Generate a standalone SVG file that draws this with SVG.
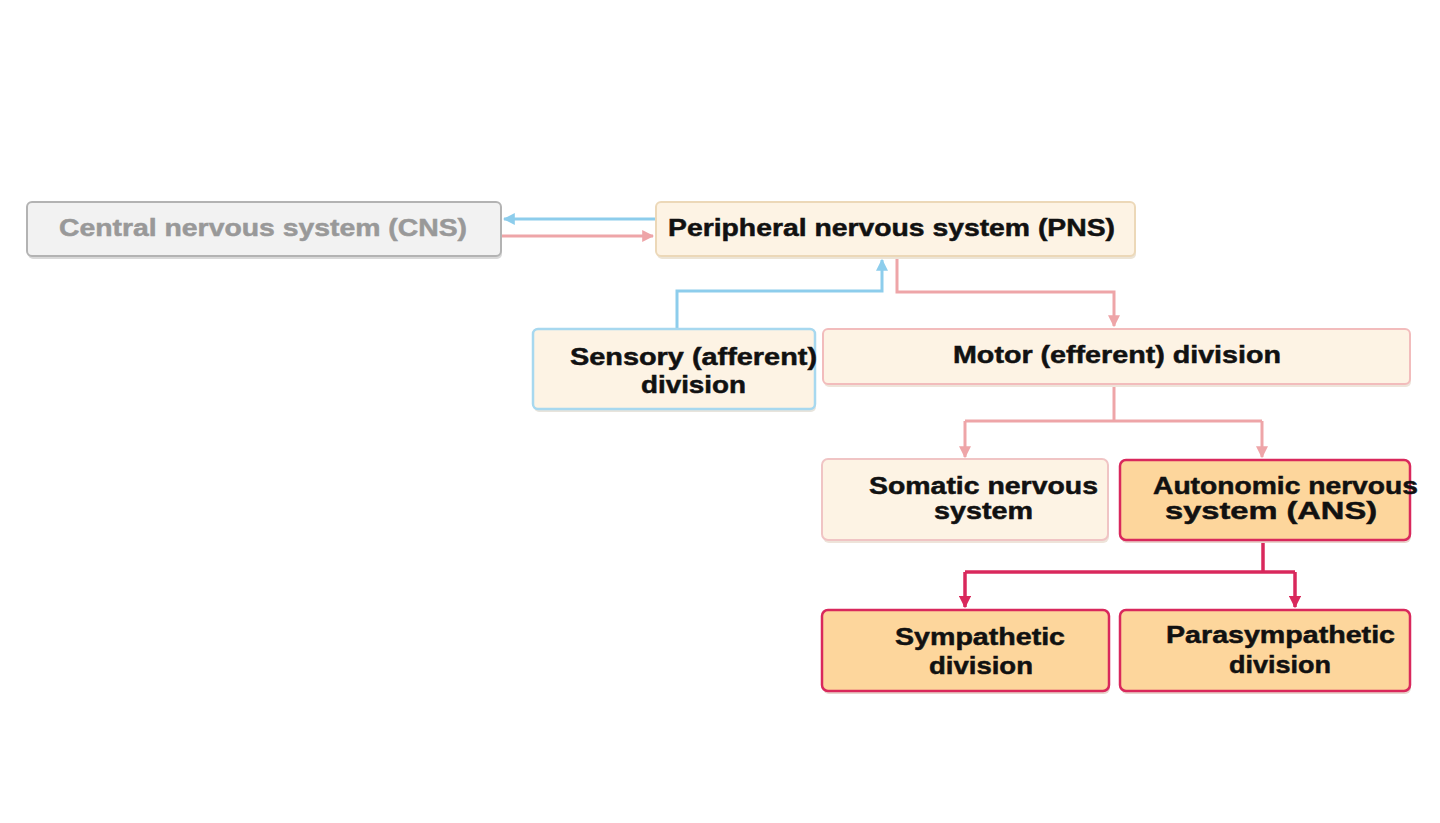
<svg xmlns="http://www.w3.org/2000/svg" width="1440" height="823" viewBox="0 0 1440 823">
<style>
.t{font-family:"Liberation Sans",Arial,sans-serif;font-weight:bold;font-size:24px;fill:#111111;stroke:#111111;stroke-width:0.5}
.g{fill:#999999;stroke:#999999}
.sh{fill:#d9d9d9}
.cream{fill:#fdf3e4}
.orange{fill:#fdd69c}
.blue{stroke:#8dcdec;stroke-width:3;fill:none}
.pink{stroke:#eea5a8;stroke-width:3;fill:none}
.red{stroke:#d9285c;stroke-width:3.5;fill:none}
</style>
<defs>
<marker id="aBlue" viewBox="0 0 10 10" refX="9" refY="5" markerWidth="4" markerHeight="4" orient="auto"><path d="M0,0L10,5L0,10z" fill="#8dcdec"/></marker>
<marker id="aPink" viewBox="0 0 10 10" refX="9" refY="5" markerWidth="4" markerHeight="4" orient="auto"><path d="M0,0L10,5L0,10z" fill="#eea5a8"/></marker>
<marker id="aRed" viewBox="0 0 10 10" refX="9" refY="5" markerWidth="3.5" markerHeight="3.5" orient="auto"><path d="M0,0L10,5L0,10z" fill="#d9285c"/></marker>
</defs>
<rect width="1440" height="823" fill="#ffffff"/>
<g id="connectors">
<path class="blue" d="M656,219H504" marker-end="url(#aBlue)"/>
<path class="pink" d="M502,236H653" marker-end="url(#aPink)"/>
<path class="blue" d="M677,329V291H882V260" marker-end="url(#aBlue)"/>
<path class="pink" d="M897,257V292H1114V326" marker-end="url(#aPink)"/>
<path class="pink" d="M1114,385V421"/>
<path class="pink" d="M965,421H1262"/>
<path class="pink" d="M965,421V457" marker-end="url(#aPink)"/>
<path class="pink" d="M1262,421V457" marker-end="url(#aPink)"/>
<path class="red" d="M1263,541V572"/>
<path class="red" d="M965,572H1295"/>
<path class="red" d="M965,572V607" marker-end="url(#aRed)"/>
<path class="red" d="M1295,572V607" marker-end="url(#aRed)"/>
</g>
<g id="cns">
<rect class="sh" x="28" y="205" width="474" height="54" rx="5"/>
<rect x="27" y="202" width="474" height="54" rx="5" fill="#f2f2f2" stroke="#b3b3b3" stroke-width="2"/>
<text class="t g" x="59" y="236" textLength="408" lengthAdjust="spacingAndGlyphs">Central nervous system (CNS)</text>
</g>
<g id="pns">
<rect x="657" y="205" width="479" height="54" rx="5" fill="#ece4d6"/>
<rect class="cream" x="656" y="202" width="479" height="54" rx="5" stroke="#ecd8b8" stroke-width="2"/>
<text class="t" x="668" y="236" textLength="447" lengthAdjust="spacingAndGlyphs">Peripheral nervous system (PNS)</text>
</g>
<g id="sensory">
<rect x="534" y="332" width="282" height="80" rx="5" fill="#e8e4dc"/>
<rect class="cream" x="533" y="329" width="282" height="80" rx="5" stroke="#a7d8ef" stroke-width="2.5"/>
<text class="t" x="570" y="365" textLength="247" lengthAdjust="spacingAndGlyphs">Sensory (afferent)</text>
<text class="t" x="641" y="393" textLength="105" lengthAdjust="spacingAndGlyphs">division</text>
</g>
<g id="motor">
<rect x="824" y="332" width="587" height="55" rx="5" fill="#eee4da"/>
<rect class="cream" x="823" y="329" width="587" height="55" rx="5" stroke="#f2bcbc" stroke-width="2"/>
<text class="t" x="953" y="363" textLength="328" lengthAdjust="spacingAndGlyphs">Motor (efferent) division</text>
</g>
<g id="somatic">
<rect x="823" y="462" width="286" height="81" rx="6" fill="#eee4da"/>
<rect class="cream" x="822" y="459" width="286" height="81" rx="6" stroke="#f0c4c4" stroke-width="2"/>
<text class="t" x="869" y="494" textLength="229" lengthAdjust="spacingAndGlyphs">Somatic nervous</text>
<text class="t" x="934" y="519" textLength="99" lengthAdjust="spacingAndGlyphs">system</text>
</g>
<g id="ans">
<rect x="1121" y="463" width="290" height="80" rx="6" fill="#e8d4cc"/>
<rect class="orange" x="1120" y="460" width="290" height="80" rx="6" stroke="#d9285c" stroke-width="2.5"/>
<text class="t" x="1153" y="494" textLength="265" lengthAdjust="spacingAndGlyphs">Autonomic nervous</text>
<text class="t" x="1165" y="519" textLength="212" lengthAdjust="spacingAndGlyphs">system (ANS)</text>
</g>
<g id="sympathetic">
<rect x="823" y="613" width="287" height="81" rx="6" fill="#e8d4cc"/>
<rect class="orange" x="822" y="610" width="287" height="81" rx="6" stroke="#d9285c" stroke-width="2.5"/>
<text class="t" x="895" y="645" textLength="170" lengthAdjust="spacingAndGlyphs">Sympathetic</text>
<text class="t" x="929" y="674" textLength="104" lengthAdjust="spacingAndGlyphs">division</text>
</g>
<g id="parasympathetic">
<rect x="1121" y="613" width="290" height="81" rx="6" fill="#e8d4cc"/>
<rect class="orange" x="1120" y="610" width="290" height="81" rx="6" stroke="#d9285c" stroke-width="2.5"/>
<text class="t" x="1166" y="643" textLength="229" lengthAdjust="spacingAndGlyphs">Parasympathetic</text>
<text class="t" x="1229" y="673" textLength="102" lengthAdjust="spacingAndGlyphs">division</text>
</g>
</svg>
